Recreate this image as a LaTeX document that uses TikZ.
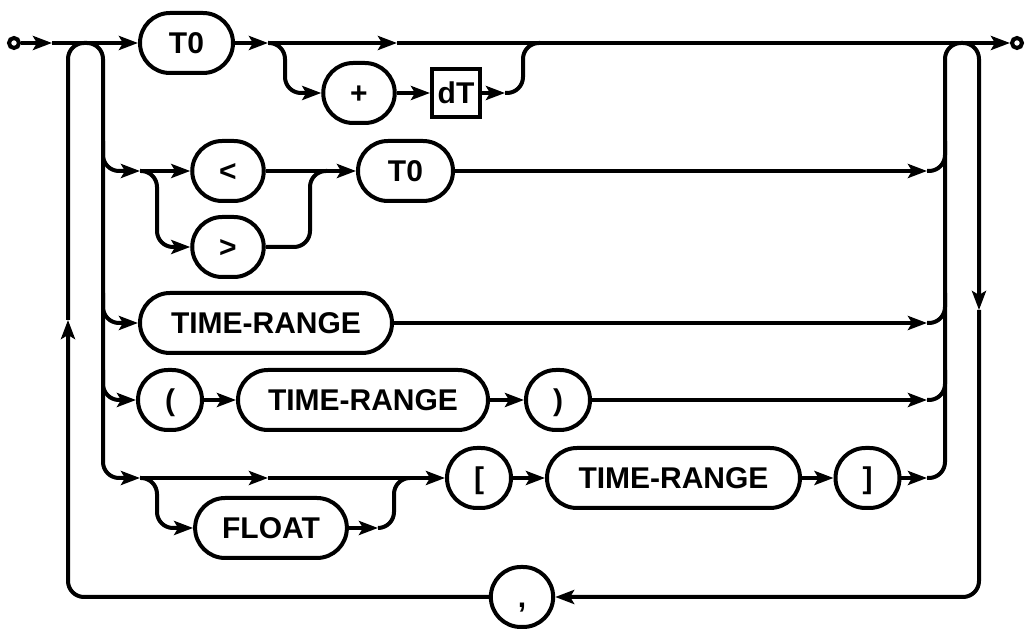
\documentclass[tikz,border=0pt]{standalone}
\usepackage{fontspec}
\setmainfont{Liberation Sans}
\usetikzlibrary{arrows.meta}
\tikzstyle{term} = [rectangle, rounded corners=15pt, minimum height=30pt, minimum width=30pt,
    inner xsep=13.5pt, text height=10.8pt, text depth=0pt, draw=black, line width=2pt,
    font=\bfseries\fontsize{15}{18}\selectfont]
\tikzstyle{box} = [rectangle, draw=black, line width=2pt, minimum size=24pt, inner sep=1pt,
    text height=10.8pt, text depth=0pt, font=\bfseries\fontsize{15}{18}\selectfont]
\tikzstyle{dot} = [circle, draw=black, line width=2pt, minimum size=5pt, inner sep=0pt]
\tikzstyle{rail} = [line width=2pt, rounded corners=8pt]
\tikzstyle{arrow} = [rail, -{Stealth[length=9.5pt,width=7pt,inset=2pt]}]

\begin{document}
\begin{tikzpicture}[x=0.5pt, y=-0.5pt]
  \useasboundingbox (0,0) rectangle (1030,635);
  % side rails
  \coordinate (Lup)  at (68,320);
  \coordinate (Lmid) at (86,43);
  \coordinate (LI)   at (103,43);
  \coordinate (RI)   at (945,43);
  \coordinate (Rmid) at (962,43);
  \coordinate (Rdn)  at (979,310);
  % row 1
  \node (start) [dot] at (14,43) {};
  \coordinate (a0) at (52,43);
  \node (t0a) [term, minimum width=46.5pt] at (186.5,43) {T0};
  \coordinate (j1) at (268,43);
  \coordinate (a1) at (397,43);
  \node (plus) [term] at (359,93) {+};
  \node (dt) [box] at (456,93) {dT};
  \coordinate (a3) at (505,93);
  \coordinate (j2) at (540,43);
  \node (stop) [dot] at (1017,43) {};
  % row 2
  \coordinate (r2) at (140,171);
  \node (lt) [term] at (228,171) {<};
  \node (gt) [term] at (228,247) {>};
  \coordinate (j3) at (327,171);
  \node (t0b) [term, minimum width=47.5pt] at (405.5,171) {T0};
  \coordinate (e2) at (927,171);
  % row 3
  \node (tr1) [term, minimum width=126pt] at (266,323) {TIME-RANGE};
  \coordinate (e3) at (927,323);
  % row 4
  \node (lpar) [term] at (170,400) {(};
  \node (tr2) [term, minimum width=125pt] at (363,400) {TIME-RANGE};
  \node (rpar) [term] at (558,400) {)};
  \coordinate (e4) at (927,400);
  % row 5
  \coordinate (r5) at (140,478);
  \coordinate (a5) at (268,478);
  \node (float) [term] at (271,528) {FLOAT};
  \coordinate (a6) at (378,528);
  \coordinate (j5) at (410,478);
  \node (lbr) [term] at (479,478) {[};
  \node (tr3) [term, minimum width=126.5pt] at (673.5,478) {TIME-RANGE};
  \node (rbr) [term] at (867.5,478) {]};
  \coordinate (e5) at (927,478);
  % return
  \node (comma) [term] at (522,597) {,};

  \draw[arrow] (start) -- (a0);
  \draw[arrow] (a0) -- (t0a);
  \draw[arrow] (t0a) -- (j1);
  \draw[arrow] (j1) -- (a1);
  \draw[arrow] (a1) -- (stop);
  \draw[arrow] (j1) -- ++(17,0) |- (plus.west);
  \draw[arrow] (plus) -- (dt);
  \draw[arrow] (dt) -- (a3);
  \draw[rail]  (j2) -- ++(-17,0) |- (a3);

  \draw[arrow] (LI |- r2) ++(0,-30) |- (r2);
  \draw[arrow] (r2) -- (lt);
  \draw[arrow] (r2) -- ++(17,0) |- (gt.west);
  \draw[rail]  (lt) -- (j3);
  \draw[rail]  (j3) -- ++(-17,0) |- (gt.east);
  \draw[arrow] (j3) -- (t0b);
  \draw[arrow] (t0b) -- (e2);
  \draw[rail]  (e2) -| ++(18,-30);

  \draw[arrow] (LI |- tr1) ++(0,-30) |- (tr1.west);
  \draw[arrow] (tr1) -- (e3);
  \draw[rail]  (e3) -| ++(18,-30);

  \draw[arrow] (LI |- lpar) ++(0,-30) |- (lpar.west);
  \draw[arrow] (lpar) -- (tr2);
  \draw[arrow] (tr2) -- (rpar);
  \draw[arrow] (rpar) -- (e4);
  \draw[rail]  (e4) -| ++(18,-30);

  \draw[arrow] (r5) -- (a5);
  \draw[rail]  (a5) -- (j5);
  \draw[arrow] (r5) -- ++(17,0) |- (float.west);
  \draw[arrow] (float) -- (a6);
  \draw[rail]  (j5) -- ++(-16,0) |- (a6);
  \draw[arrow] (j5) -- (lbr);
  \draw[arrow] (lbr) -- (tr3);
  \draw[arrow] (tr3) -- (rbr);
  \draw[arrow] (rbr) -- (e5);

  \draw[rail]  (e5) -| (RI) -- (Rmid);
  \draw[arrow] (Rmid) -| (Rdn);
  \draw[arrow] (Rdn) |- (comma.east);
  \draw[arrow] (comma.west) -| (Lup);
  \draw[rail]  (Lup) |- (Lmid);
  \draw[arrow] (Lmid) -| (LI |- r5) -- (r5);
\end{tikzpicture}
\end{document}
